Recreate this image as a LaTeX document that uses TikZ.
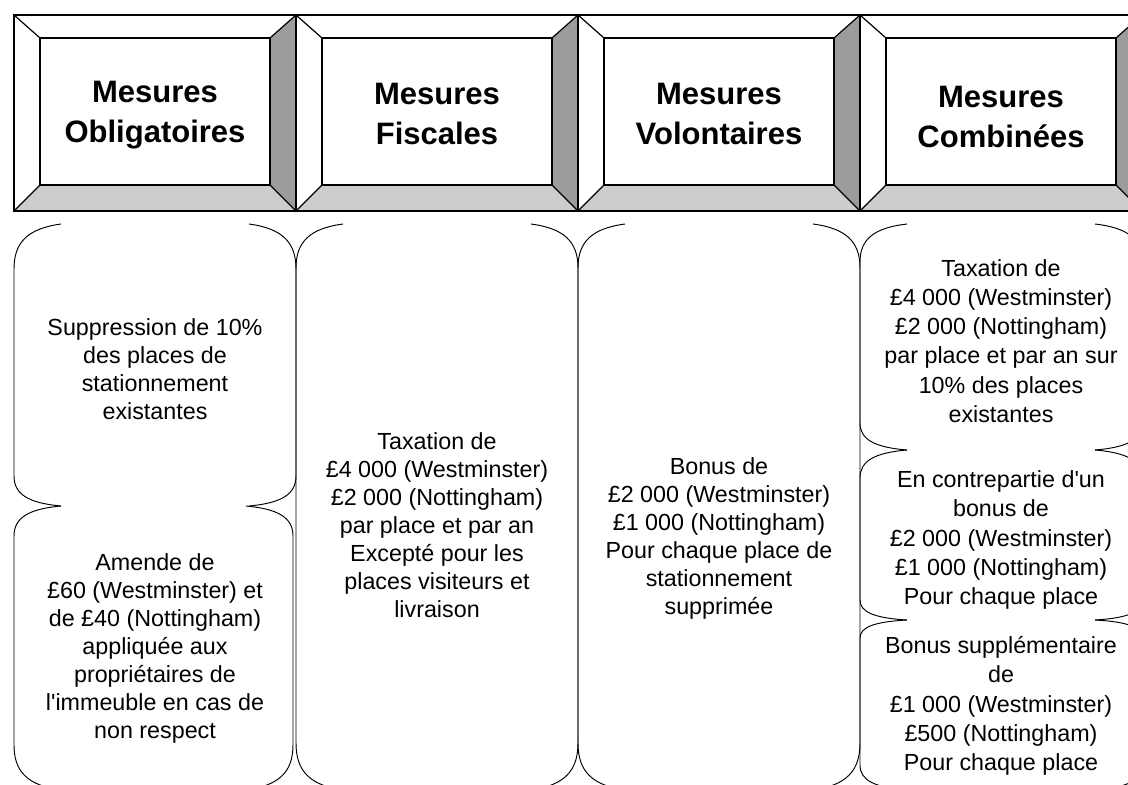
\documentclass[tikz,border=0pt]{standalone}
\usepackage{fontspec}
\setmainfont{Liberation Sans}
\usepackage{tikz}
\usetikzlibrary{positioning, calc}
\usepackage{xcolor}
\definecolor{beveldark}{HTML}{9C9C9C}
\definecolor{bevellight}{HTML}{CDCDCD}

% bracket cell: x left, x right, y top, y bottom, top bend, bottom bend
\newcommand{\bracketcell}[6]{%
  \draw[bline] (#1+47,#3) .. controls (#1+14,#3+0.1*#5) and (#1,#3+0.4*#5) .. (#1,#3+#5)
    -- (#1,#4-#6) .. controls (#1,#4-0.4*#6) and (#1+14,#4-0.1*#6) .. (#1+47,#4);
  \draw[bline] (#2-47,#3) .. controls (#2-14,#3+0.1*#5) and (#2,#3+0.4*#5) .. (#2,#3+#5)
    -- (#2,#4-#6) .. controls (#2,#4-0.4*#6) and (#2-14,#4-0.1*#6) .. (#2-47,#4);
}

\begin{document}
\begin{tikzpicture}[
  x=1pt, y=-1pt,
  bline/.style={line width=0.95pt, black},
  bevline/.style={line width=1.2pt, black},
  head/.style={align=center, inner sep=0pt,
    font=\fontsize{31}{40}\selectfont\bfseries},
  body/.style={align=center, inner sep=0pt,
    font=\fontsize{23.3}{28}\selectfont},
  bodyc/.style={body, font=\fontsize{23.3}{29.2}\selectfont}
]
  \useasboundingbox (0,0) rectangle (1128,785);
  \clip (0,0) rectangle (1128,785);

  % Bevelled header boxes
  \foreach \xa in {14, 296, 578, 860} {
    \fill[beveldark] (\xa+282,15) -- (\xa+282,211) -- (\xa+256,185) -- (\xa+256,38) -- cycle;
    \fill[bevellight] (\xa,211) -- (\xa+282,211) -- (\xa+256,185) -- (\xa+26,185) -- cycle;
    \draw[bevline] (\xa,15) rectangle (\xa+282,211);
    \draw[bevline] (\xa+26,38) rectangle (\xa+256,185);
    \draw[bevline] (\xa,15) -- (\xa+26,38);
    \draw[bevline] (\xa+282,15) -- (\xa+256,38);
    \draw[bevline] (\xa,211) -- (\xa+26,185);
    \draw[bevline] (\xa+282,211) -- (\xa+256,185);
  }

  % Header texts
  \node[head] (hObl) at (155, 115) {Mesures\\Obligatoires};
  \node[head] (hFisc) at (437, 114) {Mesures\\Fiscales};
  \node[head] (hVol) at (719, 114) {Mesures\\Volontaires};
  \node[head] (hComb) at (1001, 117) {Mesures\\Combinées};

  % Bracket cells
  \bracketcell{14}{296}{224}{506}{45}{30}
  \bracketcell{14}{293}{506}{790}{30}{45}
  \bracketcell{296}{578}{224}{790}{44}{47}
  \bracketcell{578}{860}{224}{790}{44}{47}
  \bracketcell{860}{1142}{224}{450}{38}{27}
  \bracketcell{860}{1142}{450}{620}{28}{20}
  \bracketcell{860}{1142}{620}{790}{18}{25}

  % Obligatoires
  \node[body] (tSupp) at (155, 369) {Suppression de 10\%\\des places de\\stationnement\\existantes};
  \node[body] (tAmende) at (155, 648) {Amende de\\£60 (Westminster) et\\de £40 (Nottingham)\\appliquée aux\\propriétaires de\\l\textquotesingle immeuble en cas de\\non respect};

  % Fiscales
  \node[body] (tFisc) at (437, 525) {Taxation de\\£4 000 (Westminster)\\£2 000 (Nottingham)\\par place et par an\\Excepté pour les\\places visiteurs et\\livraison};

  % Volontaires
  \node[body] (tVol) at (719, 538) {Bonus de\\£2 000 (Westminster)\\£1 000 (Nottingham)\\Pour chaque place de\\stationnement\\supprimée};

  % Combinees
  \node[bodyc] (tComb1) at (1001, 341) {Taxation de\\£4 000 (Westminster)\\£2 000 (Nottingham)\\par place et par an sur\\10\% des places\\existantes};
  \node[bodyc] (tComb2) at (1001, 540) {En contrepartie d\textquotesingle un\\bonus de\\£2 000 (Westminster)\\£1 000 (Nottingham)\\Pour chaque place};
  \node[bodyc] (tComb3) at (1001, 706) {Bonus supplémentaire\\de\\£1 000 (Westminster)\\£500 (Nottingham)\\Pour chaque place};
\end{tikzpicture}
\end{document}
